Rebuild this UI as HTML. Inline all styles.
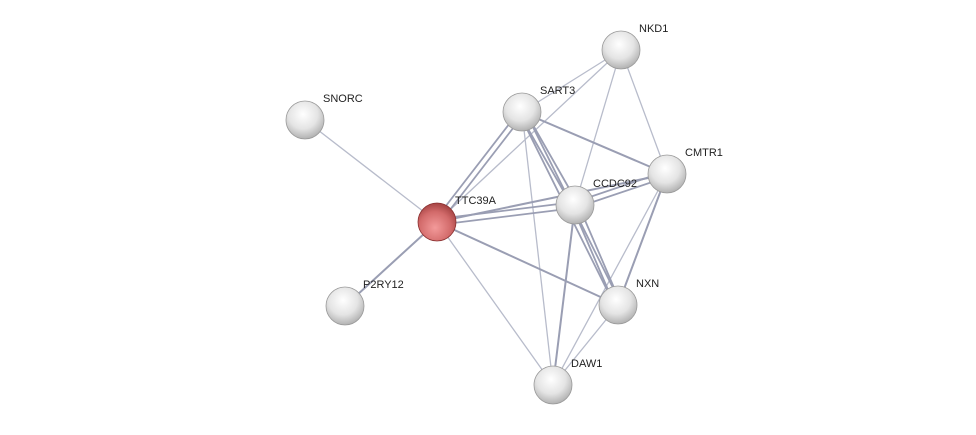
<!DOCTYPE html>
<html><head><meta charset="utf-8"><style>
html,body{margin:0;padding:0;background:#fff;}
svg text{font-family:"Liberation Sans",sans-serif;font-size:11px;fill:#222;}
</style></head><body>
<svg width="976" height="430" viewBox="0 0 976 430" xmlns="http://www.w3.org/2000/svg">
<defs>
<radialGradient id="g" cx="0.45" cy="0.35" r="0.7">
<stop offset="0" stop-color="#ffffff"/><stop offset="0.55" stop-color="#e4e4e4"/><stop offset="1" stop-color="#a8a8a8"/>
</radialGradient>
<radialGradient id="r" cx="0.45" cy="0.65" r="0.7">
<stop offset="0" stop-color="#f39a9a"/><stop offset="0.6" stop-color="#d26a6a"/><stop offset="1" stop-color="#9a3a3a"/>
</radialGradient>
<linearGradient id="hl" x1="0" y1="0" x2="0" y2="1"><stop offset="0" stop-color="#fff" stop-opacity="0.9"/><stop offset="1" stop-color="#fff" stop-opacity="0"/></linearGradient>
</defs>
<g stroke-linecap="round">
<g stroke="#b8bccb" stroke-width="1.3">
<line x1="305" y1="120" x2="437" y2="222"/>
<line x1="437" y1="222" x2="621" y2="50"/>
<line x1="437" y1="222" x2="553" y2="385"/>
<line x1="522" y1="112" x2="621" y2="50"/>
<line x1="522" y1="112" x2="553" y2="385"/>
<line x1="621" y1="50" x2="575" y2="205"/>
<line x1="621" y1="50" x2="667" y2="174"/>
<line x1="667" y1="174" x2="553" y2="385"/>
<line x1="618" y1="305" x2="553" y2="385"/>
</g>
<g stroke="#9a9eb3" stroke-width="2">
<line x1="345" y1="306" x2="437" y2="222"/>
<line x1="437" y1="222" x2="618" y2="305"/>
<line x1="437" y1="222" x2="667" y2="174"/>
<line x1="522" y1="112" x2="667" y2="174"/>
<line x1="575" y1="205" x2="553" y2="385"/>
<line x1="667" y1="174" x2="618" y2="305"/>
</g>
<g stroke="#9a9eb3" stroke-width="1.8">
<line x1="435" y1="220" x2="520" y2="110"/><line x1="439" y1="224" x2="524" y2="114"/>
<line x1="437" y1="219" x2="575" y2="202"/><line x1="437" y1="225" x2="575" y2="208"/>
<line x1="519" y1="113" x2="572" y2="206"/><line x1="525" y1="111" x2="578" y2="204"/>
<line x1="519" y1="113" x2="615" y2="306"/><line x1="525" y1="111" x2="621" y2="304"/>
<line x1="575" y1="202" x2="667" y2="171"/><line x1="575" y1="208" x2="667" y2="177"/>
<line x1="572" y1="206" x2="615" y2="306"/><line x1="578" y1="204" x2="621" y2="304"/>
</g>
</g>
<g>
<circle cx="305" cy="120" r="19" fill="url(#g)" stroke="#9a9a9a" stroke-width="0.8"/>
<circle cx="345" cy="306" r="19" fill="url(#g)" stroke="#9a9a9a" stroke-width="0.8"/>
<circle cx="621" cy="50" r="19" fill="url(#g)" stroke="#9a9a9a" stroke-width="0.8"/>
<circle cx="522" cy="112" r="19" fill="url(#g)" stroke="#9a9a9a" stroke-width="0.8"/>
<circle cx="667" cy="174" r="19" fill="url(#g)" stroke="#9a9a9a" stroke-width="0.8"/>
<circle cx="575" cy="205" r="19" fill="url(#g)" stroke="#9a9a9a" stroke-width="0.8"/>
<circle cx="618" cy="305" r="19" fill="url(#g)" stroke="#9a9a9a" stroke-width="0.8"/>
<circle cx="553" cy="385" r="19" fill="url(#g)" stroke="#9a9a9a" stroke-width="0.8"/>
<circle cx="437" cy="222" r="19" fill="url(#r)" stroke="#8a3030" stroke-width="0.8"/>
</g>
<text x="323" y="102">SNORC</text>
<text x="363" y="288">P2RY12</text>
<text x="639" y="32">NKD1</text>
<text x="540" y="94">SART3</text>
<text x="685" y="156">CMTR1</text>
<text x="593" y="187">CCDC92</text>
<text x="455" y="204">TTC39A</text>
<text x="636" y="287">NXN</text>
<text x="571" y="367">DAW1</text>
</svg>
</body></html>
